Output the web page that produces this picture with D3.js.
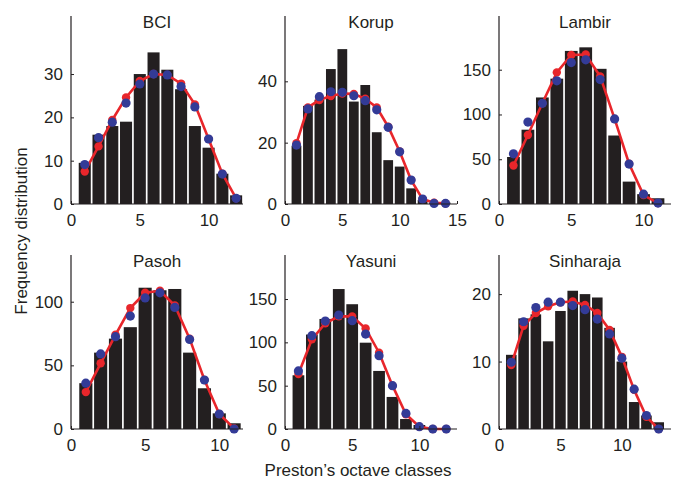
<!DOCTYPE html>
<html>
<head>
<meta charset="utf-8">
<script src="https://cdn.jsdelivr.net/npm/d3@7"></script>
<style>
  body { margin: 0; background: #fff; }
  svg text { font-family: "Liberation Sans", Arial, sans-serif; fill: #231f20; }
</style>
</head>
<body>
<div id="chart"></div>
<script>
// forest plots, bars = observed, red = fit, blue = model
var names = ["BCI", "Korup", "Lambir", "Pasoh", "Yasuni", "Sinharaja"]

var bci_obs = [9.5, 16, 18, 19, 30, 35, 31, 26.5, 18, 13, 7, 2]
var bci_red = [7.5, 13.3, 19.4, 24.6, 28.4, 30, 29.8, 27.8, 23, 15, 7, 1.3]
var bci_blue = [9.1, 15.3, 18.9, 23.3, 27.7, 30, 29.8, 27.1, 22.4, 15, 6.9, 1.3]

var korup_obs = [19, 32, 34, 44, 50.5, 33.4, 38.8, 23.4, 14.3, 12.2, 5.1, 1.3, 0.5, 0.5]
var korup_red = [19.8, 31.5, 33.9, 35.2, 36, 35.9, 34.3, 31.5, 25.2, 17.1, 7.8, 1.6, 0.4, 0.2]
var korup_blue = [19.2, 31, 35, 36.6, 36.4, 35.3, 33.7, 30.7, 25, 17, 7.8, 1.6, 0.2, 0.2]

var lambir_obs = [52.5, 83, 119, 140, 171, 175, 151, 76.5, 25, 11, 6.4]
var lambir_red = [43, 77, 112.5, 147, 166.5, 167, 142.5, 95, 45, 10, 1]
var lambir_blue = [56, 91.5, 112.5, 137.6, 158, 161, 139, 95, 44.6, 11, 1]

var pasoh_obs = [36, 60, 71, 80, 111, 109, 110, 60, 32, 12.3, 4.5]
var pasoh_red = [29, 51.6, 74, 95, 107, 108.6, 97, 71, 38.5, 11.8, 0.5]
var pasoh_blue = [36, 59, 72.5, 88.7, 103, 107, 95.5, 70.4, 38.5, 11.8, 0]

var yasuni_obs = [62, 109, 127, 161.5, 144, 99.6, 67, 37, 11.5, 4.6, 0.5, 0]
var yasuni_red = [63.5, 103.5, 122, 130, 130, 116, 88, 50, 17, 2.7, 0, 0]
var yasuni_blue = [67, 107.7, 124.6, 131.5, 125, 109.6, 84.6, 50, 18, 2.7, 0, 0]

var sinh_obs = [11, 16.4, 17, 13, 17.5, 20.5, 20, 19.5, 15, 10, 4, 2, 1]
var sinh_red = [9.5, 15.3, 17.2, 18.2, 18.8, 18.9, 18.4, 17.2, 14.7, 10.7, 5.8, 1.8, 0]
var sinh_blue = [9.9, 15.9, 18, 18.8, 18.8, 18.3, 17.7, 16.3, 14.1, 10.5, 5.9, 2, 0]

var x_max = [12.5, 15, 11.9, 11.6, 12.8, 14]
var y_max = [43.4, 61.3, 210, 136.7, 200.8, 25.8]
var x_ticks = [[0, 5, 10], [0, 5, 10, 15], [0, 5, 10], [0, 5, 10], [0, 5, 10], [0, 5, 10]]
var y_ticks = [[0, 10, 20, 30], [0, 20, 40], [0, 50, 100, 150], [0, 50, 100], [0, 50, 100, 150], [0, 10, 20]]

var obs = [bci_obs, korup_obs, lambir_obs, pasoh_obs, yasuni_obs, sinh_obs]
var red = [bci_red, korup_red, lambir_red, pasoh_red, yasuni_red, sinh_red]
var blue = [bci_blue, korup_blue, lambir_blue, pasoh_blue, yasuni_blue, sinh_blue]

var svg = d3.select("#chart").append("svg")
  .attr("width", 677)
  .attr("height", 479)

var lefts = [71, 285, 499]
var rows = [{top: 16, base: 204}, {top: 255, base: 429}]
var pw = 172

for (let i = 0; i < 6; i++) {
  let left = lefts[i % 3], row = rows[Math.floor(i / 3)]
  let x = d3.scaleLinear().domain([0, x_max[i]]).range([0, pw])
  let y = d3.scaleLinear().domain([0, y_max[i]]).range([row.base - row.top, 0])
  let h = row.base - row.top
  let g = svg.append("g").attr("transform", `translate(${left},${row.top})`)
  let unit = x(1) - x(0)

  g.selectAll("rect")
    .data(obs[i])
    .join("rect")
    .attr("x", (d, k) => x(k + 0.5) + 0.85)
    .attr("width", unit - 1.7)
    .attr("y", d => y(d))
    .attr("height", d => h - y(d))
    .attr("fill", "#231f20")

  let line = d3.line().x((d, k) => x(k + 1)).y(d => y(d))
  g.append("path")
    .datum(red[i])
    .attr("d", line)
    .attr("fill", "none")
    .attr("stroke", "#e8262b")
    .attr("stroke-width", 2.6)

  g.selectAll(".rd")
    .data(red[i])
    .join("circle")
    .attr("class", "rd")
    .attr("cx", (d, k) => x(k + 1))
    .attr("cy", d => y(d))
    .attr("r", 4.2)
    .attr("fill", "#e8262b")

  g.selectAll(".bd")
    .data(blue[i])
    .join("circle")
    .attr("class", "bd")
    .attr("cx", (d, k) => x(k + 1))
    .attr("cy", d => y(d))
    .attr("r", 4.6)
    .attr("fill", "#333b97")

  let ya = g.append("g")
    .call(d3.axisLeft(y).tickValues(y_ticks[i]).tickSize(-3).tickPadding(8))
  let xa = g.append("g")
    .attr("transform", `translate(0,${h})`)
    .call(d3.axisBottom(x).tickValues(x_ticks[i]).tickSize(-3).tickPadding(6))
  ;[ya, xa].forEach(a => {
    a.select(".domain").attr("stroke", "#231f20").attr("stroke-width", 1.2)
      .attr("d", a === ya ? `M0,${h}V0` : `M0,0H${pw}`)
    a.selectAll(".tick line").attr("stroke", "#231f20")
    a.selectAll("text").attr("font-size", 17).attr("fill", "#231f20")
      .attr("font-family", "Liberation Sans, Arial, sans-serif")
  })
  xa.selectAll("text").attr("dy", "0.95em")

  g.append("text")
    .attr("x", pw / 2)
    .attr("y", 12)
    .attr("text-anchor", "middle")
    .attr("font-size", 17)
    .text(names[i])
}

svg.append("text")
  .attr("x", 358)
  .attr("y", 476)
  .attr("text-anchor", "middle")
  .attr("font-size", 17)
  .text("Preston\u2019s octave classes")

svg.append("text")
  .attr("transform", "translate(27,231) rotate(-90)")
  .attr("text-anchor", "middle")
  .attr("font-size", 17)
  .text("Frequency distribution")
</script>
</body>
</html>
